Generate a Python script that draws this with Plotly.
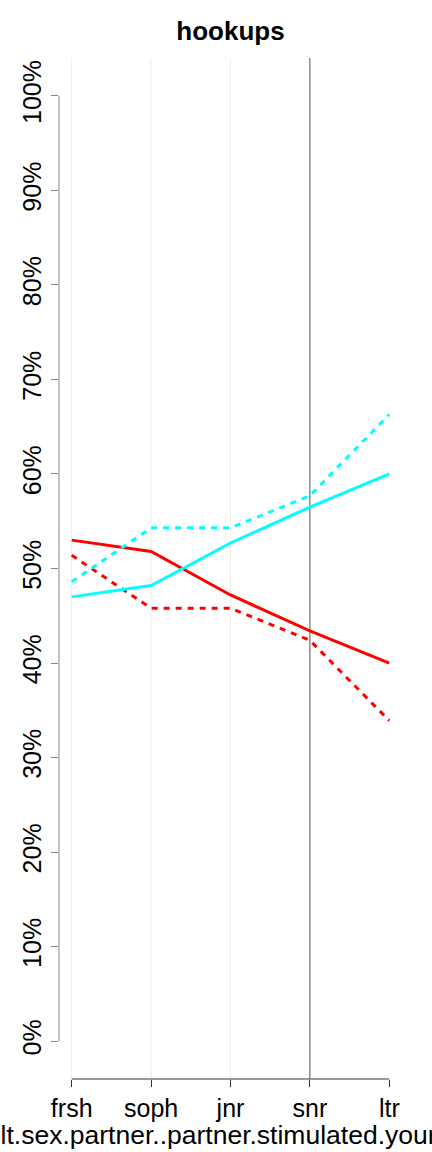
import plotly.graph_objects as go

# ---- data ----
categories = ["frsh", "soph", "jnr", "snr", "ltr"]
red_solid = [53.0, 51.8, 47.2, 43.4, 40.0]
red_dotted = [51.4, 45.8, 45.8, 42.4, 33.9]
cyan_solid = [47.0, 48.2, 52.7, 56.5, 60.0]
cyan_dotted = [48.6, 54.3, 54.3, 57.7, 66.3]
y_ticks = [0, 10, 20, 30, 40, 50, 60, 70, 80, 90, 100]
y_tick_labels = [f"{v}%" for v in y_ticks]
grid_categories = ["frsh", "soph", "jnr"]
marker_category = "snr"
title_text = "hookups"
x_title_text = "result.sex.partner..partner.stimulated.your.genitals"

FONT = "Liberation Sans, Arial, sans-serif"
xpos = list(range(len(categories)))

fig = go.Figure()

series = [
    (red_solid, "#FF0000", "solid"),
    (red_dotted, "#FF0000", "6px,6px"),
    (cyan_solid, "#00FFFF", "solid"),
    (cyan_dotted, "#00FFFF", "6px,6px"),
]
for vals, col, dash in series:
    fig.add_trace(go.Scatter(
        x=xpos, y=vals, mode="lines",
        line=dict(color=col, width=3, dash=dash),
        showlegend=False, hoverinfo="skip",
    ))

shapes = []
# faint vertical grid lines
for c in grid_categories:
    i = categories.index(c)
    shapes.append(dict(type="line", xref="x", yref="paper", x0=i, x1=i, y0=0, y1=1,
                       line=dict(color="#EEEEE2", width=1), layer="below"))
# dark marker line
mi = categories.index(marker_category)
shapes.append(dict(type="line", xref="x", yref="paper", x0=mi, x1=mi, y0=0, y1=1,
                   line=dict(color="#555555", width=1), layer="below"))
# x axis line (from first to last category)
shapes.append(dict(type="line", xref="x", yref="paper", x0=0, x1=len(categories) - 1, y0=0, y1=0,
                   line=dict(color="#333333", width=1)))
# y axis line (from 0% to 100%)
shapes.append(dict(type="line", xref="paper", yref="y", x0=0, x1=0, y0=y_ticks[0], y1=y_ticks[-1],
                   line=dict(color="#888888", width=1)))

fig.update_layout(
    width=432, height=1152,
    margin=dict(l=59, r=30, t=58, b=73),
    paper_bgcolor="white", plot_bgcolor="white",
    font=dict(family=FONT, size=25, color="black"),
    shapes=shapes,
    title=dict(text=f"<b>{title_text}</b>", x=0.5, xref="paper", xanchor="center",
               y=1 - 31 / 1152, yref="container", yanchor="middle",
               font=dict(family=FONT, size=26, color="black")),
    xaxis=dict(
        range=[-0.16, len(categories) - 1 + 0.16],
        tickmode="array", tickvals=xpos, ticktext=categories,
        ticks="outside", ticklen=7, tickcolor="#333333", tickwidth=1,
        showgrid=False, zeroline=False, showline=False,
        tickfont=dict(family=FONT, size=25, color="black"),
        fixedrange=True,
    ),
    yaxis=dict(
        range=[-4, 104],
        tickmode="array", tickvals=y_ticks, ticktext=y_tick_labels,
        ticks="outside", ticklen=7, tickcolor="#888888", tickwidth=1,
        tickangle=-90,
        showgrid=False, zeroline=False, showline=False,
        tickfont=dict(family=FONT, size=25, color="black"),
        fixedrange=True,
    ),
    annotations=[dict(
        text=x_title_text, xref="paper", yref="paper", x=0.5, y=0,
        xanchor="center", yanchor="middle", xshift=11, yshift=-56,
        showarrow=False, font=dict(family=FONT, size=26.5, color="black"),
    )],
)

fig.write_html("out.html", config={"displayModeBar": False},
               post_script="document.body.style.margin='0';")
